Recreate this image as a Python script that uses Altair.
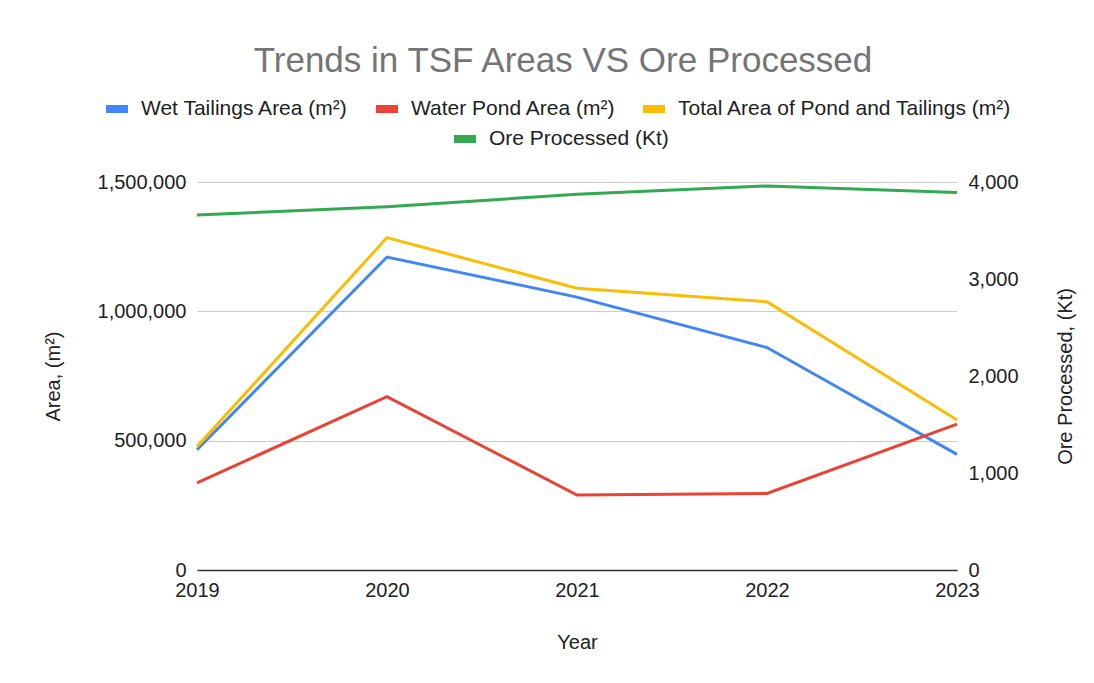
import altair as alt
import pandas as pd

years = [2019, 2020, 2021, 2022, 2023]
wet_tailings = [465000, 1210000, 1055000, 860000, 447000]
water_pond = [337000, 670000, 290000, 296000, 564000]
total_area = [477000, 1285000, 1089000, 1037000, 580000]
ore_processed = [3660, 3746, 3873, 3959, 3893]

area_series = ["Wet Tailings Area (m²)", "Water Pond Area (m²)",
               "Total Area of Pond and Tailings (m²)"]
area_colors = ["#4285F4", "#EA4335", "#FBBC04"]
ore_series = ["Ore Processed (Kt)"]
ore_colors = ["#34A853"]

left_ticks = [0, 500000, 1000000, 1500000]
right_ticks = [0, 1000, 2000, 3000, 4000]

rows = []
for name, vals in zip(area_series, [wet_tailings, water_pond, total_area]):
    for y, v in zip(years, vals):
        rows.append({"Year": y, "Series": name, "Area": v})
area_df = pd.DataFrame(rows)
ore_df = pd.DataFrame({"Year": years, "Series": ore_series * len(years), "Ore": ore_processed})

FONT = "Arial"
TXT = "#222222"

x_enc = alt.X("Year:Q",
              scale=alt.Scale(domain=[2019, 2023], nice=False, zero=False),
              axis=alt.Axis(values=years, format="d", grid=False, ticks=False,
                            domainColor="#333333", domainWidth=1.5,
                            labelFontSize=20, labelColor=TXT, labelPadding=10,
                            labelFlush=False, title="Year", titleFontSize=20,
                            titleFontWeight="normal", titleColor=TXT, titlePadding=32))

legend_common = dict(orient="none", direction="horizontal", title=None,
                     symbolType="stroke", symbolSize=484, symbolStrokeWidth=8,
                     labelFontSize=21, labelFont=FONT, labelColor=TXT,
                     labelOffset=9, columnPadding=11, labelLimit=500)

area_lines = alt.Chart(area_df).mark_line(strokeWidth=3).encode(
    x=x_enc,
    y=alt.Y("Area:Q",
            scale=alt.Scale(domain=[0, 1500000], nice=False),
            axis=alt.Axis(values=left_ticks, format=",d", ticks=False, domain=False,
                          gridColor="#cccccc", labelFontSize=20, labelColor=TXT,
                          labelPadding=11, title="Area, (m²)", titleFontSize=20,
                          titleFontWeight="normal", titleColor=TXT, titlePadding=34)),
    color=alt.Color("Series:N",
                    scale=alt.Scale(domain=area_series, range=area_colors),
                    sort=area_series,
                    legend=alt.Legend(legendX=-95, legendY=-88, **legend_common)),
)

ore_line = alt.Chart(ore_df).mark_line(strokeWidth=3).encode(
    x=x_enc,
    y=alt.Y("Ore:Q",
            scale=alt.Scale(domain=[0, 4000], nice=False),
            axis=alt.Axis(orient="right", values=right_ticks, format=",d", ticks=False,
                          domain=False, grid=False, labelFontSize=20, labelColor=TXT,
                          labelPadding=11, title="Ore Processed, (Kt)", titleFontSize=20,
                          titleFontWeight="normal", titleColor=TXT, titlePadding=57,
                          titleAngle=270)),
    color=alt.Color("Series:N",
                    scale=alt.Scale(domain=ore_series, range=ore_colors),
                    legend=alt.Legend(legendX=253, legendY=-58, **legend_common)),
)

chart = alt.layer(area_lines, ore_line).resolve_scale(
    y="independent", color="independent"
).properties(
    width=760,
    height=388,
    title=alt.TitleParams("Trends in TSF Areas VS Ore Processed", fontSize=35,
                          font=FONT, fontWeight="normal", color="#757575",
                          anchor="middle", frame="group", dx=-14, offset=15),
    autosize=alt.AutoSizeParams(type="none"),
    padding={"left": 189, "top": 174, "right": 120, "bottom": 90},
).configure(
    font=FONT,
).configure_view(
    stroke=None
)

chart.save("out.html", embed_options={"renderer": "svg", "actions": False})
